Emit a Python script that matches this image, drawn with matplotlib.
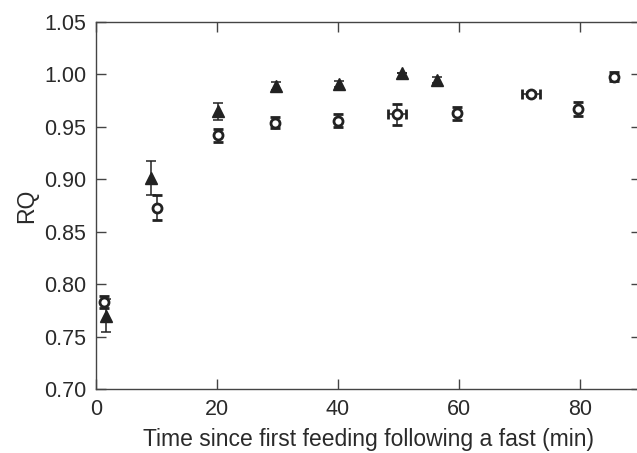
import matplotlib
matplotlib.use("Agg")
import matplotlib.pyplot as plt

# ---------------------------------------------------------------------------
# Data
# ---------------------------------------------------------------------------
time_open = [1.3, 10.1, 20.2, 29.6, 40.0, 49.8, 59.7, 71.9, 79.7, 85.6]
rq_open = [0.783, 0.873, 0.942, 0.954, 0.956, 0.962, 0.963, 0.981, 0.967, 0.998]
yerr_open = [0.006, 0.012, 0.006, 0.005, 0.006, 0.010, 0.006, 0.002, 0.007, 0.004]
xerr_open = [0.0, 0.0, 0.0, 0.0, 0.0, 1.5, 0.0, 1.5, 0.0, 0.0]

time_filled = [1.7, 9.1, 20.2, 29.8, 40.2, 50.5, 56.3]
rq_filled = [0.770, 0.901, 0.965, 0.989, 0.991, 1.001, 0.995]
yerr_filled = [0.016, 0.016, 0.008, 0.004, 0.003, 0.0, 0.003]

xticks = [0, 20, 40, 60, 80]
yticks = [0.70, 0.75, 0.80, 0.85, 0.90, 0.95, 1.00, 1.05]

plt.rcParams["font.family"] = ["Liberation Sans", "DejaVu Sans"]

fig = plt.figure(figsize=(6.37, 4.53), dpi=100)
ax = fig.add_axes([96 / 637, 1 - 389 / 453, (640.5 - 96) / 637, (389 - 22) / 453])

ink = "#222222"

ax.errorbar(time_filled, rq_filled, yerr=yerr_filled, fmt="^", color=ink,
            markersize=9, markerfacecolor=ink, markeredgecolor=ink,
            ecolor=ink, elinewidth=1.1, capsize=3.5, capthick=1.1, zorder=3)
ax.errorbar(time_open, rq_open, yerr=yerr_open, xerr=xerr_open, fmt="o",
            color=ink, markersize=6.5, markerfacecolor="white",
            markeredgecolor=ink, markeredgewidth=2.0, ecolor=ink,
            elinewidth=1.1, capsize=3.5, capthick=1.1, zorder=4)

ax.set_xlim(0, 90)
ax.set_ylim(0.70, 1.05)
ax.set_xticks(xticks)
ax.set_yticks(yticks)
ax.set_yticklabels([f"{v:.2f}" for v in yticks])

ax.tick_params(direction="in", length=7, width=1, colors="#444444",
               labelcolor="#2a2a2a", labelsize=15.5, top=True, right=True, pad=7)
for sp in ax.spines.values():
    sp.set_color("#444444")
    sp.set_linewidth(1.0)

ax.set_xlabel("Time since first feeding following a fast (min)", fontsize=16.5,
              color="#2a2a2a", labelpad=6)
ax.set_ylabel("RQ", fontsize=16.5, color="#2a2a2a", labelpad=4)

fig.savefig("out.png", dpi=100)
